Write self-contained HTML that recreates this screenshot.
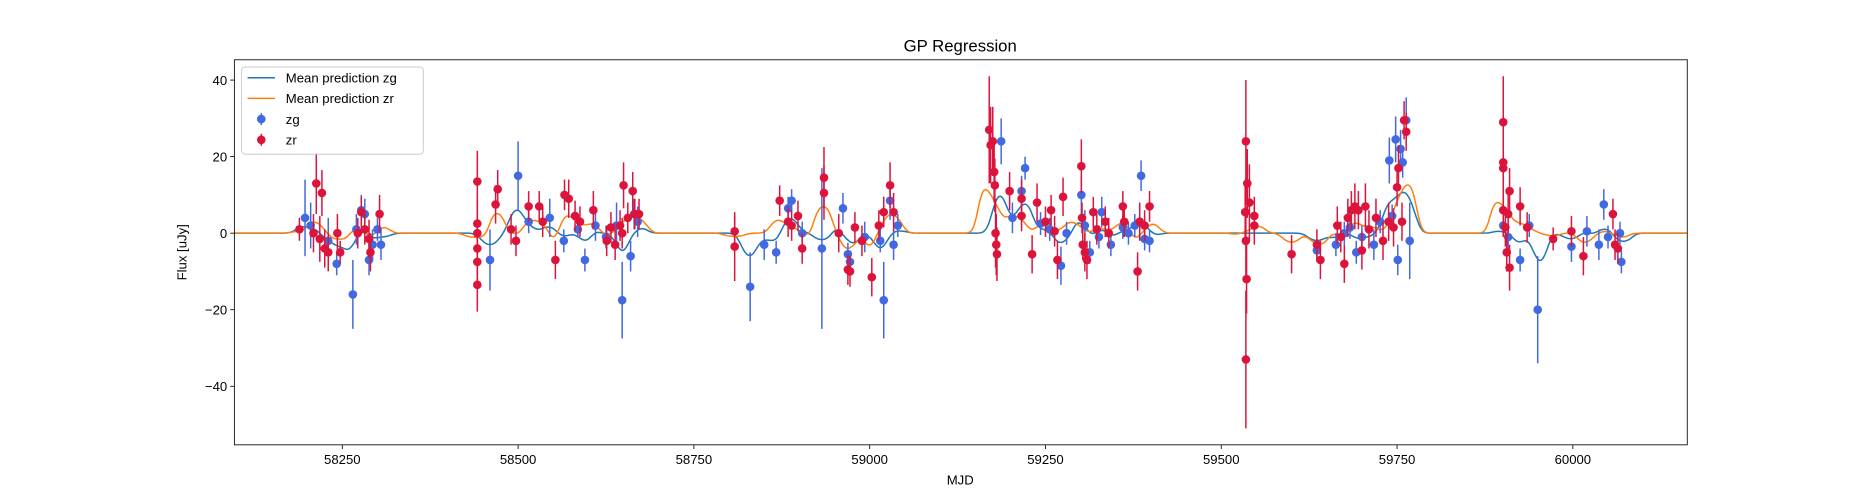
<!DOCTYPE html>
<html><head><meta charset="utf-8"><style>
body{margin:0;background:#fff;font-family:"Liberation Sans",sans-serif}
svg{display:block}
text{font-family:"Liberation Sans",sans-serif;fill:#000}
</style></head><body>
<svg id="chart" width="1875" height="500" viewBox="0 0 1568 418.13" preserveAspectRatio="none" xmlns="http://www.w3.org/2000/svg">
<rect x="0" y="0" width="1568" height="418.13" fill="#fff"/>
<text x="803" y="43" font-size="14" text-anchor="middle">GP Regression</text>
<text x="803" y="405" font-size="11" text-anchor="middle">MJD</text>
<text x="156" y="211" font-size="11" text-anchor="middle" transform="rotate(-90 156 211)">Flux [uJy]</text>
<g id="plot"></g>
<g id="axes"></g>
</svg>
<script>
const gMjd=[58197,58205,58230,58242,58265,58270,58277,58282,58288,58293,58300,58305,
58460,58500,58515,58545,58565,58585,58595,58610,58625,58640,58648,58660,58665,58670,
58830,58850,58867,58884,58889,58904,58932,58962,58969,58972,58993,59015,59020,59029,59034,59040,
59187,59203,59216,59221,59243,59256,59272,59280,59301,59306,59313,59326,59330,59343,59360,59368,59377,59386,59391,59398,
59636,59663,59675,59683,59692,59700,59717,59726,59739,59743,59748,59751,59755,59758,59763,59768,
59901,59908,59925,59938,59950,59998,60020,60037,60044,60050,60067,60069];
const gFlux=[4,2,-2,-8,-16,1,6,5,-7,-3,1,-3,
-7,15,3,4,-2,1,-7,2,-1,2,-17.5,-6,5,3,
-14,-3,-5,6.5,8.5,0,-4,6.5,-5.5,-7.5,-1,-2,-17.5,8.5,-3,2,
24,4,11,17,2.5,1,-8.5,0,10,2,-5,-1,5.5,-3,1.5,0,2,15,-1.5,-2,
-4.5,-3,0,1.5,-5,-1,-3,3,19,4.5,24.5,-7,22,18.5,29.5,-2,
2,-1,-7,2,-20,-3.5,0.5,-3,7.5,-1,0,-7.5];
const gErr=[10,6,6,3,9,4,4,4,4,4,3,4,
8,9,3,5,3,2,3,4,3,6,10,4,4,4,
9,4,3,3,3,3,21,4,3,3,4,3,10,5,4,3,
6,4,4,3,3,3,5,3,5,4,3,3,4,3,3,3,3,4,3,3,
3,3,3,3,3,3,4,3,6,3,6,4,5,4,6,10,
3,3,3,3,14,4,4,4,4,3,3,3];

const rMjd=[58189,58209,58213,58221,58218,58225,58230,58247,58243,58272,58277,58282,58288,58290,58303,
58442,58442,58442,58442,58442,58442,58468,58471,58490,58497,58515,58530,58535,58553,58566,58572,58581,58588,58607,58626,58632,58638,58645,58648,58650,58656,58663,58666,58672,
58808,58808,58872,58884,58889,58898,58904,58935,58935,58956,58969,58972,58979,58989,59003,59013,59020,59029,59034,
59170,59172,59175,59177,59178,59179,59180,59181,59199,59216,59216,59231,59238,59250,59258,59263,59267,59275,59301,59302,59303,59306,59309,59318,59323,59335,59340,59360,59362,59381,59384,59391,59398,
59535,59534,59537,59535,59536,59535,59540,59547,59547,
59600,59636,59641,59665,59670,59675,59680,59685,59690,59695,59700,59705,59710,59720,59730,59738,59745,59750,59752,59760,59763,59757,
59901,59901,59901,59901,59904,59906,59910,59908,59910,59925,59935,59972,59998,60015,60057,60060,60064];
const rFlux=[1,0,13,10.5,-1.5,-4,-5,-5,0,0,5.5,1,-1.5,-5,5,
13.5,2.5,0,-4,-7.5,-13.5,7.5,11.5,1,-2,7,7,3,-7,10,9,4.5,3,6,-2,1.5,-3,2,0,12.5,4,11,5,5,
0.5,-3.5,8.5,3,2,4.5,-4,14.5,10.5,0,-9.5,-10,1.5,-2,-11.5,2,5.5,12.5,5.5,
27,23,24,16,12.5,0,-3,-5.5,11,9,4.5,-5.5,8,3,6,0.5,-7,9.5,17.5,4,-3,-5,-7,5.5,1,3,0,7,3,-10,3,2,7,
24,5.5,13,-2,-12,-33,8,2,4.5,
-5.5,-3,-7,2,-1,-8,4,6,7,6,-4.5,7,1,4,-2,3,1.5,12,17,29.5,26.5,3,
29,18.5,17,6,1.5,-5,11,5,-9,7,1.5,-1.5,0.5,-6,5,-3,-4];
const rErr=[3,5,8,6,6,5,5,3,5,4,4,4,5,5,5,
8,6,5,5,6,7,5,5,4,4,4,4,4,5,4,5,4,4,5,4,4,4,4,4,6,4,5,4,4,
4,9,4,4,4,4,4,8,7,5,4,4,4,4,5,4,4,6,5,
14,10,9,8,7,9,8,7,5,5,4,5,5,4,4,4,5,5,7,4,4,5,5,4,4,4,4,4,4,5,5,4,4,
16,8,9,9,9,18,10,5,5,
5,4,5,5,4,5,5,5,6,5,5,6,5,5,5,5,5,5,6,5,5,5,
12,6,7,7,5,5,6,5,6,5,4,3,4,5,4,4,4];

const L=196,R=1411,T=50,B=372;
const xMin=58096.5,xMax=60162.7,yMin=-55.3,yMax=45.3;
function X(v){return L+(v-xMin)/(xMax-xMin)*(R-L);}
function Y(v){return T+(yMax-v)/(yMax-yMin)*(B-T);}
const NS='http://www.w3.org/2000/svg';
function el(tag,attrs,parent){const e=document.createElementNS(NS,tag);for(const k in attrs)e.setAttribute(k,attrs[k]);parent.appendChild(e);return e;}
const plot=document.getElementById('plot'),axes=document.getElementById('axes');

function meanCurve(ms,fs,ls,reg){
  let d='';
  for(let t=xMin;t<=xMax;t+=1.5){
    let sw=0,sy=0;
    for(let i=0;i<ms.length;i++){const u=(t-ms[i])/ls;const w=Math.exp(-0.5*u*u);sw+=w;sy+=w*fs[i];}
    const m=sy/(sw+reg)*0.85;
    d+=(d?'L':'M')+X(t).toFixed(1)+','+Y(m).toFixed(1);
  }
  return d;
}
const lineG=el('path',{d:meanCurve(gMjd,gFlux,9,1.0),fill:'none',stroke:'#1f77b4','stroke-width':1.25},plot);


const lineR=el('path',{d:meanCurve(rMjd,rFlux,9,1.0),fill:'none',stroke:'#ff7f0e','stroke-width':1.25},plot);



function drawPts(ms,fs,es,col,name){
  for(let i=0;i<ms.length;i++){
    const g=el('g',{},plot);
    
    
    el('line',{x1:X(ms[i]),x2:X(ms[i]),y1:Y(fs[i]+es[i]),y2:Y(fs[i]-es[i]),stroke:col,'stroke-width':1.25},g);
    el('circle',{cx:X(ms[i]),cy:Y(fs[i]),r:3.6,fill:col},g);
  }
}
drawPts(gMjd,gFlux,gErr,'#4169e1','zg-point');
drawPts(rMjd,rFlux,rErr,'#dc143c','zr-point');

const xTicks=[58250,58500,58750,59000,59250,59500,59750,60000];
const yTicks=[-40,-20,0,20,40];
xTicks.forEach(v=>{
  const t=el('g',{},axes);
  
  
  el('line',{x1:X(v),x2:X(v),y1:B,y2:B+3.5,stroke:'#000','stroke-width':0.7},t);
  const tx=el('text',{x:X(v),y:B+16,'font-size':11,'text-anchor':'middle'},t);tx.textContent=v;
});
yTicks.forEach(v=>{
  const t=el('g',{},axes);
  
  
  el('line',{x1:L-3.5,x2:L,y1:Y(v),y2:Y(v),stroke:'#000','stroke-width':0.7},t);
  const tx=el('text',{x:L-6,y:Y(v)+4,'font-size':11,'text-anchor':'end'},t);tx.textContent=(v<0?'\u2212'+(-v):v);
});
el('rect',{x:L,y:T,width:R-L,height:B-T,fill:'none',stroke:'#000','stroke-width':0.7},axes);

const lg=el('g',{},axes);


el('rect',{x:202,y:56,width:152,height:73,rx:3,fill:'#fff','fill-opacity':0.8,stroke:'#ccc','stroke-width':0.8},lg);
const items=[['line','#1f77b4','Mean prediction zg'],['line','#ff7f0e','Mean prediction zr'],['pt','#4169e1','zg'],['pt','#dc143c','zr']];
items.forEach((it,i)=>{
  const y=65+i*17.3;
  const e=el('g',{},lg);
  
  
  if(it[0]=='line') el('line',{x1:207,x2:230,y1:y,y2:y,stroke:it[1],'stroke-width':1.25},e);
  else {el('line',{x1:218.5,x2:218.5,y1:y-5,y2:y+5,stroke:it[1],'stroke-width':1.25},e);el('circle',{cx:218.5,cy:y,r:3.6,fill:it[1]},e);}
  const tx=el('text',{x:239,y:y+4,'font-size':11},e);tx.textContent=it[2];
});
</script>
</body></html>
